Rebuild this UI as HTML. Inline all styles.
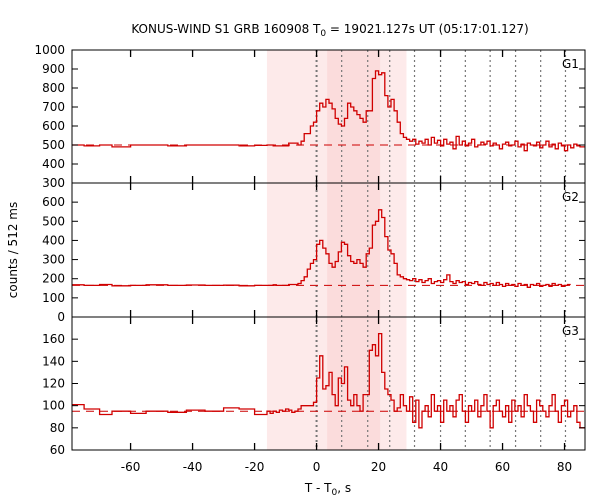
<!DOCTYPE html>
<html><head><meta charset="utf-8"><style>
body{margin:0;background:#fff}
svg{display:block;font-family:"DejaVu Sans","Liberation Sans",sans-serif}
</style></head><body>
<svg id="chart" width="600" height="500"></svg>
<script>
const preEdges=[-78.9,-75,-70,-66,-60,-55,-48,-42,-36,-30,-25,-20,-16];
const fineStart=-16, fineEnd=86;
const g1Pre=[500,495,500,490,500,500,495,500,500,500,495,498];
const g1Fine=[500,500,495,495,495,495,495,510,510,510,500,
520,560,560,600,620,680,720,700,740,720,690,640,610,600,640,720,700,680,660,640,620,680,680,850,890,870,880,760,700,740,680,620,560,540,530,
520,530,505,520,510,530,500,540,510,525,495,530,505,515,480,545,500,520,495,510,530,490,500,515,505,520,495,510,500,480,505,515,495,500,520,490,505,470,510,500,495,515,485,500,520,490,505,480,510,495,470,500,485,505,495,490];
const g2Pre=[168,165,170,163,165,168,165,167,165,166,163,165];
const g2Fine=[165,165,168,165,165,165,165,170,170,170,175,
190,210,250,280,300,380,400,360,330,280,260,290,340,390,380,320,290,280,300,280,260,330,360,480,500,560,520,420,350,330,280,220,210,200,195,
190,200,185,195,180,190,200,175,185,190,180,195,220,185,175,190,180,185,170,180,175,185,170,165,180,170,175,165,180,170,160,175,165,170,160,175,165,170,155,170,165,175,160,165,170,160,175,165,170,160,165,170];
const g3Pre=[101,97,92,95,93,95,94,96,95,98,97,92];
const g3Fine=[95,93,95,94,96,95,97,96,94,95,97,
100,100,100,100,103,125,145,115,118,130,110,100,125,120,135,105,100,110,100,95,110,110,150,155,145,165,130,115,110,105,95,98,110,100,95,
108,85,105,80,95,100,90,110,95,100,85,105,95,100,90,105,110,95,85,100,95,105,90,100,110,95,80,100,105,95,90,100,85,105,95,100,90,110,100,95,85,105,100,95,90,100,110,95,85,100,105,90,95,100,85,80];
const bgLevels=[500,165,95];
const panelNames=["G1","G2","G3"];
const yDomains=[[300,1000],[0,700],[60,180]];
const yTicks=[[300,400,500,600,700,800,900,1000],[0,100,200,300,400,500,600],[60,80,100,120,140,160]];
const xTicks=[-60,-40,-20,0,20,40,60,80];
const dottedTimes=[0,8.1,16.5,23.6,31.6,40,48,56,64.2,72.3,80.3];
const series=[[g1Pre,g1Fine],[g2Pre,g2Fine],[g3Pre,g3Fine]];

const L=72,R=585,T0=-78.9,T1=86.6;
const panels=[[50,183],[183,317],[317,450]];
const X=t=>L+(t-T0)/(T1-T0)*(R-L);
const NS="http://www.w3.org/2000/svg";
const svg=document.getElementById('chart');
function mk(tag,attrs,parent){const e=document.createElementNS(NS,tag);for(const k in attrs)e.setAttribute(k,attrs[k]);(parent||svg).appendChild(e);return e;}

let s1=mk('rect',{x:X(-16),y:50,width:X(29)-X(-16),height:400,fill:'#fdeaea'});


let s2=mk('rect',{x:X(3.4),y:50,width:X(20.5)-X(3.4),height:400,fill:'#fbdcdc'});


dottedTimes.forEach((t,i)=>{
  let l=mk('line',{x1:X(t),x2:X(t),y1:50,y2:450,stroke:'#777','stroke-width':i==0?2:1.2,'stroke-dasharray':'2,3'});
  
  
});
const edges=preEdges.slice();
for(let t=fineStart+1;t<=fineEnd;t++)edges.push(t);
edges[edges.length-1]=T1;

panels.forEach((p,pi)=>{
  const [top,bot]=p,[d0,d1]=yDomains[pi];
  const Y=v=>bot-(v-d0)/(d1-d0)*(bot-top);
  const vals=series[pi][0].concat(series[pi][1]);
  const g=mk('g',{});
  
  
  let bl=mk('line',{x1:L,x2:R,y1:Y(bgLevels[pi]),y2:Y(bgLevels[pi]),stroke:'#c00','stroke-width':1,'stroke-dasharray':'8,6'},g);
  
  
  let d='';
  for(let i=0;i<vals.length&&i<edges.length-1;i++){
    const y=Y(vals[i]);
    d+=(i==0?'M':'L')+X(edges[i]).toFixed(1)+','+y.toFixed(1)+'L'+X(edges[i+1]).toFixed(1)+','+y.toFixed(1);
  }
  let path=mk('path',{d:d,fill:'none',stroke:'#d00000','stroke-width':1.3},g);
  
  
  let fr=mk('rect',{x:L,y:top,width:R-L,height:bot-top,fill:'none',stroke:'#000','stroke-width':1},g);
  
  
  yTicks[pi].forEach(v=>{
    const y=Y(v);
    mk('line',{x1:L,x2:L+6,y1:y,y2:y,stroke:'#000'},g);
    mk('line',{x1:R,x2:R-6,y1:y,y2:y,stroke:'#000'},g);
    let tx=mk('text',{x:L-7,y:y+4,'text-anchor':'end','font-size':12,fill:'#000'},g);
    tx.textContent=v;
    
    
  });
  xTicks.forEach(t=>{
    mk('line',{x1:X(t),x2:X(t),y1:top,y2:top+7,stroke:'#000','stroke-width':1.3},g);
    mk('line',{x1:X(t),x2:X(t),y1:bot,y2:bot-7,stroke:'#000','stroke-width':1.3},g);
  });
  let lb=mk('text',{x:562,y:top+18,'font-size':12,fill:'#000'},g);
  lb.textContent=panelNames[pi];
  
  
});
xTicks.forEach(t=>{
  let tx=mk('text',{x:X(t),y:471,'text-anchor':'middle','font-size':12});
  tx.textContent=t;
  
  
});
</script>
<svg width="600" height="500" style="position:absolute;left:0;top:0;pointer-events:none">
<text x="330" y="33" text-anchor="middle" font-size="12" font-family="DejaVu Sans,sans-serif">KONUS-WIND S1 GRB 160908 T<tspan font-size="9" dy="3">0</tspan><tspan dy="-3"> = 19021.127s UT (05:17:01.127)</tspan></text>
<text transform="translate(17,250) rotate(-90)" text-anchor="middle" font-size="12" font-family="DejaVu Sans,sans-serif">counts / 512 ms</text>
<text x="328" y="492" text-anchor="middle" font-size="12" font-family="DejaVu Sans,sans-serif">T - T<tspan font-size="9" dy="3">0</tspan><tspan dy="-3">, s</tspan></text>
</svg>
</body></html>
